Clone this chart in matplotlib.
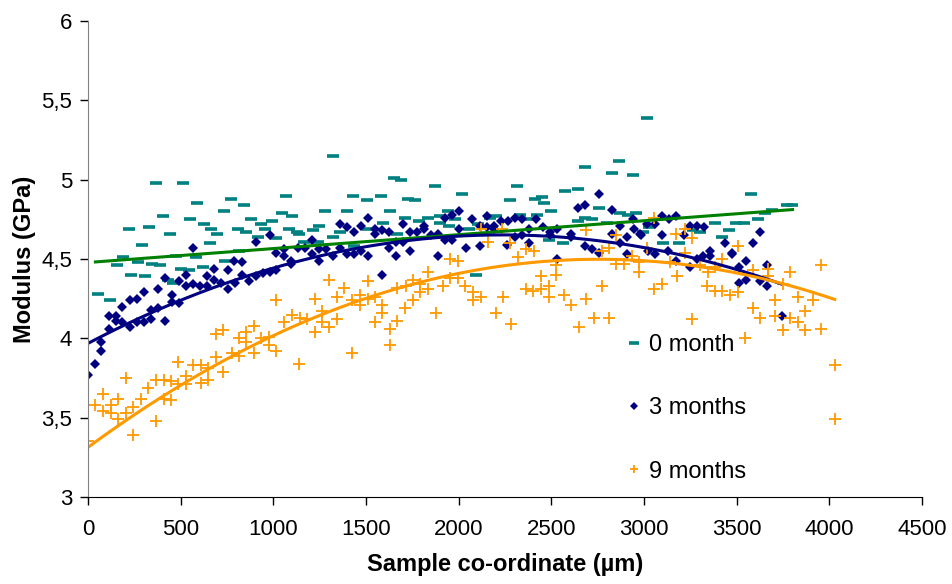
import numpy as np
import matplotlib
matplotlib.use("Agg")
import matplotlib.pyplot as plt
from matplotlib.ticker import FuncFormatter

# modulus along the sample, three ageing times
x_0m = [55, 118, 154, 191, 220, 232, 272, 291, 309, 329, 347, 368, 388, 404, 431, 440, 458, 476,
        502, 513, 545, 551, 585, 586, 620, 624, 660, 662, 695, 735, 738, 771, 808, 815, 844, 853,
        881, 917, 933, 955, 992, 1012, 1048, 1066, 1087, 1101, 1128, 1137, 1164, 1212, 1241, 1248,
        1280, 1321, 1321, 1360, 1396, 1432, 1437, 1507, 1513, 1579, 1593, 1632, 1650, 1670, 1688,
        1709, 1725, 1763, 1786, 1834, 1874, 1902, 1902, 1942, 1947, 1983, 2019, 2058, 2093, 2102,
        2168, 2202, 2277, 2313, 2331, 2372, 2410, 2424, 2449, 2462, 2487, 2499, 2564, 2573, 2642,
        2646, 2682, 2682, 2721, 2755, 2800, 2828, 2866, 2873, 2916, 2939, 2955, 2996, 3014, 3029,
        3104, 3187, 3264, 3305, 3381, 3420, 3459, 3499, 3538, 3577, 3615, 3654, 3693, 3770, 3800]
y_0m = [4.28, 4.24, 4.46, 4.51, 4.69, 4.40, 4.48, 4.59, 4.39, 4.70, 4.47, 4.98, 4.46, 4.77, 4.37, 4.66,
        4.35, 4.52, 4.44, 4.98, 4.43, 4.75, 4.51, 4.85, 4.45, 4.72, 4.60, 4.69, 4.66, 4.80, 4.49, 4.88,
        4.69, 4.55, 4.84, 4.67, 4.75, 4.64, 4.72, 4.69, 4.74, 4.63, 4.79, 4.90, 4.69, 4.77, 4.67, 4.66,
        4.61, 4.68, 4.61, 4.71, 4.80, 5.15, 4.64, 4.67, 4.80, 4.90, 4.58, 4.87, 4.69, 4.90, 4.73, 4.80,
        5.01, 4.66, 5.00, 4.76, 4.88, 4.87, 4.74, 4.76, 4.96, 4.77, 4.73, 4.80, 4.71, 4.75, 4.91, 4.69,
        4.40, 4.72, 4.76, 4.77, 4.87, 4.96, 4.78, 4.75, 4.88, 4.78, 4.89, 4.85, 4.62, 4.80, 4.60, 4.93,
        4.74, 4.94, 5.08, 4.76, 4.75, 4.82, 4.73, 5.04, 5.12, 4.79, 4.78, 5.03, 4.79, 4.67, 5.39, 4.70,
        4.60, 4.60, 4.68, 4.67, 4.73, 4.64, 4.68, 4.73, 4.73, 4.91, 4.75, 4.79, 4.81, 4.84, 4.84]

x_3m = [0, 36, 73, 73, 113, 114, 150, 150, 186, 186, 225, 225, 265, 265, 302, 302, 340, 340, 377, 377,
        415, 415, 454, 454, 490, 490, 529, 529, 565, 567, 604, 642, 642, 680, 680, 717, 754, 754, 790,
        792, 830, 830, 867, 905, 905, 946, 980, 980, 1016, 1016, 1057, 1058, 1096, 1096, 1132, 1169,
        1207, 1209, 1246, 1246, 1284, 1321, 1359, 1359, 1396, 1396, 1434, 1434, 1471, 1471, 1509, 1509,
        1548, 1548, 1586, 1586, 1625, 1625, 1663, 1663, 1700, 1700, 1738, 1738, 1775, 1813, 1813, 1850,
        1888, 1888, 1925, 1925, 1963, 1963, 2001, 2001, 2040, 2070, 2115, 2115, 2152, 2152, 2190, 2191,
        2228, 2263, 2267, 2304, 2304, 2342, 2342, 2379, 2379, 2417, 2455, 2492, 2492, 2530, 2530, 2605,
        2608, 2646, 2682, 2682, 2719, 2755, 2757, 2830, 2830, 2869, 2869, 2907, 2907, 2943, 2946, 2980,
        2984, 3019, 3023, 3061, 3061, 3098, 3098, 3130, 3134, 3171, 3175, 3216, 3248, 3250, 3284, 3288,
        3321, 3323, 3359, 3359, 3436, 3474, 3474, 3511, 3511, 3550, 3550, 3588, 3626, 3626, 3663, 3663,
        3747]
y_3m = [3.77, 3.84, 3.98, 3.92, 4.14, 4.06, 4.14, 4.11, 4.20, 4.10, 4.24, 4.07, 4.25, 4.10, 4.29, 4.10,
        4.12, 4.18, 4.19, 4.31, 4.11, 4.38, 4.23, 4.27, 4.22, 4.36, 4.33, 4.40, 4.57, 4.34, 4.33, 4.39,
        4.33, 4.44, 4.37, 4.35, 4.43, 4.31, 4.49, 4.35, 4.48, 4.40, 4.36, 4.61, 4.39, 4.41, 4.65, 4.42,
        4.54, 4.43, 4.52, 4.56, 4.49, 4.47, 4.57, 4.57, 4.62, 4.53, 4.56, 4.49, 4.56, 4.52, 4.72, 4.57,
        4.70, 4.53, 4.67, 4.53, 4.71, 4.55, 4.76, 4.52, 4.69, 4.66, 4.68, 4.40, 4.67, 4.57, 4.61, 4.52,
        4.72, 4.61, 4.67, 4.55, 4.67, 4.71, 4.69, 4.65, 4.66, 4.52, 4.76, 4.62, 4.78, 4.62, 4.80, 4.69,
        4.57, 4.75, 4.71, 4.58, 4.77, 4.70, 4.71, 4.69, 4.74, 4.59, 4.74, 4.76, 4.64, 4.75, 4.65, 4.69,
        4.60, 4.75, 4.70, 4.67, 4.65, 4.69, 4.50, 4.64, 4.66, 4.82, 4.84, 4.58, 4.56, 4.54, 4.91, 4.81,
        4.66, 4.71, 4.60, 4.64, 4.53, 4.75, 4.69, 4.66, 4.65, 4.72, 4.55, 4.72, 4.53, 4.77, 4.65, 4.55,
        4.75, 4.77, 4.49, 4.65, 4.45, 4.71, 4.50, 4.71, 4.52, 4.70, 4.55, 4.52, 4.60, 4.54, 4.53, 4.45,
        4.35, 4.49, 4.37, 4.60, 4.67, 4.36, 4.46, 4.33, 4.14]

x_9m = [0, 38, 79, 79, 122, 122, 163, 163, 204, 204, 243, 243, 284, 325, 365, 365, 408, 408, 447, 447,
        486, 486, 529, 529, 569, 610, 610, 649, 649, 690, 690, 731, 731, 776, 815, 815, 855, 855, 896,
        896, 935, 976, 976, 1012, 1016, 1060, 1101, 1141, 1142, 1182, 1223, 1223, 1262, 1262, 1303,
        1303, 1343, 1343, 1382, 1425, 1425, 1468, 1468, 1509, 1509, 1548, 1548, 1589, 1589, 1629, 1629,
        1670, 1670, 1711, 1715, 1754, 1754, 1790, 1791, 1833, 1834, 1876, 1915, 1954, 1954, 1995, 1997,
        2036, 2077, 2077, 2120, 2120, 2160, 2201, 2236, 2240, 2277, 2281, 2320, 2362, 2362, 2403, 2406,
        2446, 2446, 2487, 2487, 2526, 2526, 2567, 2608, 2649, 2689, 2689, 2730, 2771, 2771, 2810, 2812,
        2850, 2850, 2893, 2935, 2973, 2973, 3014, 3055, 3055, 3098, 3139, 3175, 3179, 3220, 3220, 3259,
        3261, 3300, 3340, 3345, 3381, 3381, 3422, 3422, 3465, 3506, 3506, 3545, 3586, 3586, 3626, 3667,
        3667, 3708, 3708, 3749, 3752, 3788, 3790, 3829, 3829, 3870, 3870, 3912, 3953, 3953, 4033, 4033]
y_9m = [3.35, 3.58, 3.65, 3.54, 3.58, 3.53, 3.62, 3.49, 3.75, 3.53, 3.57, 3.39, 3.62, 3.69, 3.74, 3.48,
        3.74, 3.62, 3.73, 3.61, 3.85, 3.71, 3.76, 3.71, 3.83, 3.83, 3.72, 3.81, 3.74, 4.03, 3.88, 4.05,
        3.79, 3.91, 4.00, 3.89, 4.04, 3.98, 4.08, 3.91, 4.00, 4.01, 3.96, 4.24, 3.92, 4.10, 4.15, 3.84,
        4.13, 4.12, 4.25, 4.04, 4.17, 4.10, 4.07, 4.37, 4.26, 4.12, 4.32, 4.24, 3.91, 4.27, 4.21, 4.36,
        4.25, 4.26, 4.10, 4.21, 4.16, 4.06, 3.96, 4.32, 4.11, 4.19, 4.33, 4.24, 4.37, 4.34, 4.29, 4.31,
        4.42, 4.16, 4.33, 4.50, 4.38, 4.38, 4.49, 4.33, 4.29, 4.24, 4.69, 4.26, 4.61, 4.16, 4.69, 4.26,
        4.60, 4.09, 4.51, 4.56, 4.31, 4.30, 4.55, 4.39, 4.31, 4.33, 4.26, 4.46, 4.40, 4.27, 4.21, 4.07,
        4.68, 4.25, 4.13, 4.55, 4.33, 4.57, 4.13, 4.65, 4.47, 4.47, 4.52, 4.48, 4.42, 4.57, 4.76, 4.31,
        4.34, 4.48, 4.66, 4.39, 4.69, 4.54, 4.12, 4.63, 4.46, 4.33, 4.42, 4.45, 4.30, 4.50, 4.30, 4.27,
        4.58, 4.29, 4.00, 4.43, 4.19, 4.13, 4.44, 4.39, 4.24, 4.14, 4.05, 4.34, 4.42, 4.13, 4.26, 4.10,
        4.17, 4.05, 4.24, 4.46, 4.06, 3.83, 3.49]

# trendline values along each curve
trend_0m_x = [32, 1003, 2076, 3121, 3810]
trend_0m_y = [4.481, 4.567, 4.658, 4.752, 4.813]
trend_3m_x = [0, 708, 1003, 1539, 2049, 2496, 2853, 3121, 3452, 3747]
trend_3m_y = [3.968, 4.336, 4.442, 4.578, 4.652, 4.647, 4.603, 4.536, 4.452, 4.341]
trend_9m_x = [0, 1003, 1629, 1754, 2049, 2585, 2764, 3121, 3452, 3863, 4037]
trend_9m_y = [3.313, 4.021, 4.305, 4.336, 4.414, 4.494, 4.498, 4.473, 4.441, 4.305, 4.235]

labels = ["0 month", "3 months", "9 months"]
y_ticks = [3, 3.5, 4, 4.5, 5, 5.5, 6]
x_ticks = [0, 500, 1000, 1500, 2000, 2500, 3000, 3500, 4000, 4500]

plt.rcParams["font.family"] = ["Liberation Sans", "DejaVu Sans"]

fig = plt.figure(figsize=(9.53, 5.84), dpi=100)
ax = fig.add_axes([0.0923, 0.149, 0.8751, 0.815])

h0, = ax.plot(x_0m, y_0m, ls="none", marker="_", ms=9, mew=2.6, color="#008080", label=labels[0])
h3, = ax.plot(x_3m, y_3m, ls="none", marker="D", ms=5.5, mew=0, color="#000080", label=labels[1])
h9, = ax.plot(x_9m, y_9m, ls="none", marker="+", ms=8, mew=1.3, color="#FF9900", label=labels[2])

# linear trend for 0 month, quadratic for the aged samples
for xs, ys, deg, col in [(trend_0m_x, trend_0m_y, 1, "#008000"),
                         (trend_3m_x, trend_3m_y, 2, "#000080"),
                         (trend_9m_x, trend_9m_y, 2, "#FF9900")]:
    c = np.polyfit(xs, ys, deg)
    xx = np.linspace(min(xs), max(xs), 200)
    ax.plot(xx, np.polyval(c, xx), color=col, lw=2.2, solid_capstyle="butt")

ax.set_xlim(0, 4500)
ax.set_ylim(3, 6)
ax.set_xticks(x_ticks)
ax.set_yticks(y_ticks)
ax.yaxis.set_major_formatter(FuncFormatter(lambda v, p: f"{v:g}".replace(".", ",")))

ax.spines["top"].set_visible(False)
ax.spines["right"].set_visible(False)
ax.spines["left"].set_color("#808080")
ax.spines["bottom"].set_color("black")
ax.tick_params(axis="both", direction="out", length=5.5, width=1, labelsize=16)
ax.tick_params(axis="x", pad=10)
ax.tick_params(axis="y", pad=6, color="black")

ax.set_xlabel("Sample co-ordinate (µm)", fontsize=17, fontweight="bold", labelpad=10)
ax.set_ylabel("Modulus (GPa)", fontsize=17, fontweight="bold", labelpad=4)

ax.legend(handles=[h0, h3, h9], loc="upper left", bbox_to_anchor=(0.655, 0.428),
          bbox_transform=fig.transFigure, frameon=False, fontsize=17, numpoints=1,
          markerscale=0.8, handlelength=0.8, handletextpad=0.25, labelspacing=1.75,
          borderpad=0, borderaxespad=0)

fig.savefig("out.png", dpi=100)
